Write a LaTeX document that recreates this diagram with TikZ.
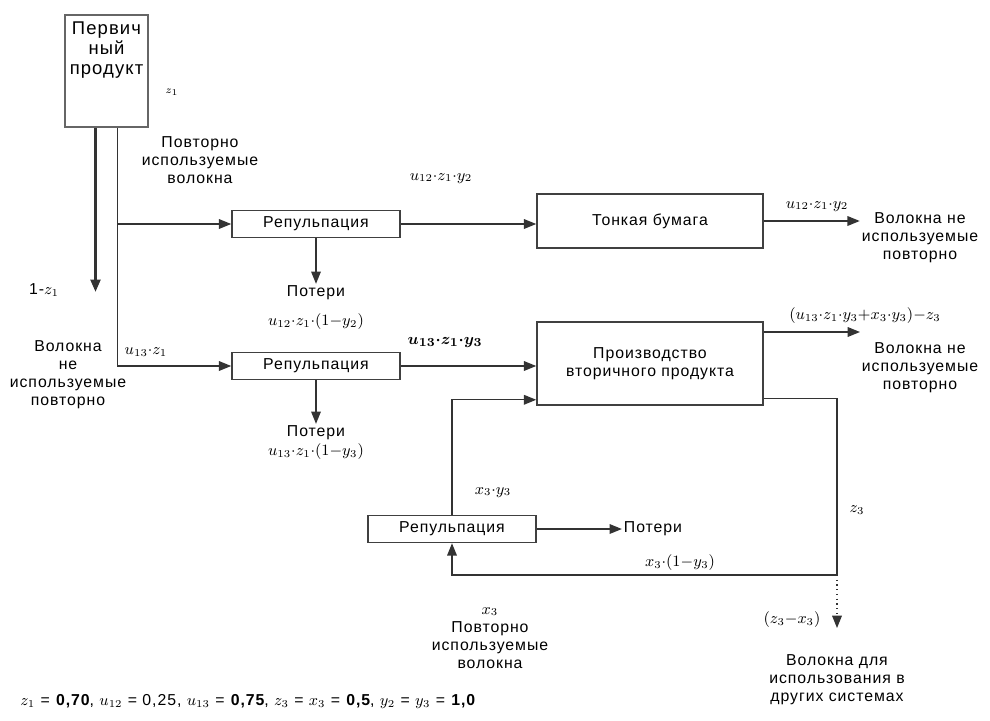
\documentclass[tikz,border=0pt]{standalone}
\usepackage{fontspec}
\setmainfont{Liberation Sans}[LetterSpace=6]
\usepackage{amsmath}
\usetikzlibrary{arrows.meta,positioning,calc}

\newcommand{\tdot}{{\cdot}}

\tikzset{
  blk/.style={draw=black!75, line width=0.9pt, minimum width=3.36cm, minimum height=0.54cm, inner sep=1pt, font=\fontsize{9}{10.5}\selectfont},
  primbox/.style={draw=black!60, line width=1.4pt, minimum width=1.66cm, minimum height=2.24cm},
  arr/.style={line width=0.7pt, draw=black!80, -{Triangle[length=7pt,width=5.5pt]}},
  wire/.style={line width=0.7pt, draw=black!80},
  lbl/.style={font=\fontsize{9}{10}\selectfont, inner sep=1pt},
  txt/.style={align=center, inner sep=1pt, font=\fontsize{9}{10.3}\selectfont},
}

\begin{document}
\begin{tikzpicture}[x=0.02cm, y=-0.02cm]
\useasboundingbox (0,0) rectangle (990,720);

% Primary product
\node[primbox] (prim) at (106.5,71) {};
\node[txt, anchor=north, font=\fontsize{10.5}{11.4}\selectfont] (primtxt) at (106.5,20) {Первич\\ный\\продукт};
\node[lbl, font=\fontsize{6}{7}\selectfont] (zone) at (172,92) {$z_1$};

% Trunks leaving the primary product
\coordinate (lost) at (95.5,292);
\coordinate (tr) at ($(prim.south)+(11,0)$);
\draw[arr, line width=1.6pt] ($(prim.south)+(-11,0)$) -- (lost);
\node[lbl] (onez) at (44,290) {1-$z_1$};
\node[txt] (reuse1) at (200,160) {Повторно\\используемые\\волокна};
\node[txt] (notused1) at (68,375) {Волокна\\не\\используемые\\повторно};

% Repulping stages
\node[blk] (rep1) at (316,224) {Репульпация};
\node[blk] (rep2) at (316,366) {Репульпация};
\node[blk] (rep3) at (452,529) {Репульпация};

\draw[arr] (tr) |- (rep2.west);
\draw[arr] (tr |- rep1.west) -- (rep1.west);
\node[lbl] (u13z1) at (146,352) {$u_{13}\tdot z_1$};

% Losses
\node[txt] (loss1) at (316,293) {Потери};
\node[lbl] (loss1f) at (316,322) {$u_{12}\tdot z_1\tdot(1{-}y_2)$};
\node[txt] (loss2) at (316,433) {Потери};
\node[lbl] (loss2f) at (316,452) {$u_{13}\tdot z_1\tdot(1{-}y_3)$};
\node[txt] (loss3) at (653,529) {Потери};
\draw[arr] (rep1.south) -- (loss1.north);
\draw[arr] (rep2.south) -- (loss2.north);
\draw[arr] (rep3.east) -- (loss3.west);

% Tissue paper
\node[blk, minimum width=4.52cm, minimum height=1.08cm] (tissue) at (650,221) {Тонкая бумага};
\draw[arr] (rep1.east) -- (rep1.east -| tissue.west);
\node[lbl] (f12) at (441,178) {$u_{12}\tdot z_1\tdot y_2$};
\node[txt] (out1) at (920,238) {Волокна не\\используемые\\повторно};
\draw[arr] (tissue.east) -- (tissue.east -| out1.west);
\node[lbl] (f12b) at (817,206) {$u_{12}\tdot z_1\tdot y_2$};

% Secondary product
\node[blk, minimum width=4.52cm, minimum height=1.66cm, align=center] (prod) at (650,363.5) {Производство\\вторичного продукта};
\draw[arr] (rep2.east) -- (rep2.east -| prod.west);
\node[lbl, font=\fontsize{9.5}{10}\selectfont] (f13) at (445,342) {$\boldsymbol{u_{13}\tdot z_1\tdot y_3}$};
\coordinate (o2) at (860,332);
\draw[arr] (prod.east |- o2) -- (o2);
\node[lbl] (f3) at (865,316) {$(u_{13}\tdot z_1\tdot y_3{+}x_3\tdot y_3){-}z_3$};
\node[txt] (out2) at (920,368) {Волокна не\\используемые\\повторно};

% Recycle loop
\coordinate (pout) at ($(prod.south east)+(0,-7)$);
\coordinate (pin) at ($(prod.south west)+(0,-6)$);
\coordinate (fb) at (837,575);
\coordinate (oth) at (837,628);
\draw[wire] (pout) -| (fb);
\draw[arr] (fb) -- (rep3.south |- fb) -- (rep3.south);
\draw[arr] (rep3.north) |- (pin);
\draw[wire, dotted] (fb) -- ($(oth)+(0,-12)$);
\draw[arr] ($(oth)+(0,-11)$) -- (oth);
\node[lbl] (z3) at (857,510) {$z_3$};
\node[lbl] (x3y3) at (493,492) {$x_3\tdot y_3$};
\node[lbl] (x3l) at (680,563) {$x_3\tdot(1{-}y_3)$};
\node[lbl] (z3x3) at (792,620) {$(z_3{-}x_3)$};
\node[txt] (other) at (837,680) {Волокна для\\использования в\\других системах};
\node[txt] (reuse3) at (490,638) {$x_3$\\Повторно\\используемые\\волокна};

% Values
\node[anchor=west, inner sep=0pt, font=\fontsize{9}{10}\selectfont] (vals) at (20,702)
  {$z_1$ = \textbf{0,70}, $u_{12}$ = 0,25, $u_{13}$ = \textbf{0,75}, $z_3$ = $x_3$ = \textbf{0,5}, $y_2$ = $y_3$ = \textbf{1,0}};

\end{tikzpicture}
\end{document}
